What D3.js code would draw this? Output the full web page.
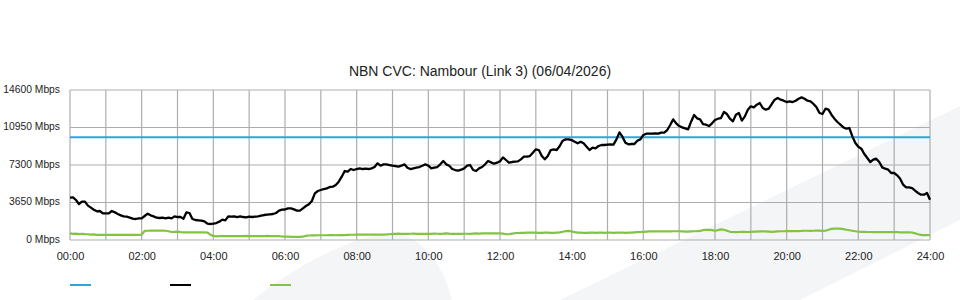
<!DOCTYPE html>
<html>
<head>
<meta charset="utf-8">
<script src="https://cdn.jsdelivr.net/npm/d3@7/dist/d3.min.js"></script>
<style>
  html, body { margin: 0; padding: 0; background: #fff; }
  svg { display: block; font-family: "Liberation Sans", Arial, sans-serif; }
</style>
</head>
<body>
<svg id="chart" width="960" height="300"></svg>
<script>
// ---- data ----
const title = "NBN CVC: Nambour (Link 3) (06/04/2026)";
const sampleStepMinutes = 5;
const yTicks = [0, 3650, 7300, 10950, 14600];
const xTickLabels = ["00:00","02:00","04:00","06:00","08:00","10:00","12:00","14:00","16:00","18:00","20:00","22:00","24:00"];
const capacityTimes = [0, 1440];
const capacityValues = [10000, 10000];
const trafficValues = [
  4120,4153,3893,3504,3731,3731,3342,3147,2952,2790,2822,2595,
  2595,2595,2822,2693,2530,2401,2303,2271,2173,2076,2044,2109,
  2109,2336,2563,2401,2303,2173,2141,2173,2109,2173,2109,2303,
  2238,2238,2076,2693,2628,2044,1946,1914,1882,1817,1590,1557,
  1590,1654,1784,1979,1914,2303,2271,2303,2238,2303,2238,2206,
  2271,2238,2271,2303,2368,2433,2465,2498,2530,2628,2855,2952,
  2970,3082,3082,2984,2855,2855,3082,3309,3471,3795,4542,4769,
  4866,4963,5028,5158,5190,5353,5677,6164,6715,6650,6910,6812,
  6910,6975,6910,6942,6910,6975,7104,7461,7234,7364,7364,7299,
  7234,7202,7137,7234,7364,7039,6910,6975,7039,7104,7234,7364,
  7234,6975,7039,7104,7364,7688,7364,7234,6910,6812,6748,6845,
  6975,7234,7299,6812,6715,6975,7104,7364,7688,7559,7429,7526,
  7670,8045,7786,7526,7591,7623,7656,7850,8110,8110,8175,8499,
  8824,8759,8175,7850,8175,8759,8824,8759,9148,9667,9797,9797,
  9732,9570,9408,9570,9408,9083,8759,8986,8921,9148,9245,9245,
  9278,9310,9278,9797,10478,10056,9472,9310,9343,9343,9667,9797,
  10219,10348,10348,10348,10381,10348,10446,10446,10705,11192,11743,11354,
  11094,10965,10867,10770,11516,12165,11841,11743,11289,11224,11094,11354,
  11680,11808,11873,12457,12262,11808,11549,12197,12360,11614,12035,12684,
  13008,12911,13171,13333,12846,12684,12781,13236,13657,13819,13657,13560,
  13430,13495,13430,13560,13755,13884,13755,13560,13495,13236,12911,12360,
  12262,12781,12684,12197,11808,11484,11224,10965,10835,10900,10089,9440,
  9083,8889,8370,7980,7591,7818,7915,7591,7072,6942,6845,6520,
  6520,6293,5969,5385,5126,5126,5061,4801,4574,4412,4412,4574,3925
];
const secondaryValues = [
  640,600,620,580,610,570,560,520,540,500,490,500,
  500,500,500,500,500,490,490,490,490,490,490,500,
  520,880,900,910,910,910,910,905,900,850,780,800,
  810,760,750,750,750,750,750,750,750,740,730,520,
  400,360,370,380,380,390,380,380,380,370,380,400,
  380,380,380,380,370,380,400,380,380,370,370,340,
  330,320,310,300,300,310,320,400,440,450,450,460,
  460,460,460,470,470,460,470,470,480,500,510,510,
  520,520,530,520,520,520,530,520,530,530,540,560,
  600,600,620,600,610,600,610,620,600,600,610,600,
  590,600,620,610,600,620,650,620,600,600,590,600,
  610,610,600,620,640,630,640,640,640,640,640,640,
  650,620,560,560,620,660,680,700,700,710,720,720,
  720,700,700,720,720,700,700,720,740,800,870,880,
  830,760,720,720,700,690,710,720,700,720,720,700,
  710,720,700,720,730,720,700,710,720,740,760,780,
  800,820,840,840,840,840,840,840,840,840,850,850,
  850,840,820,820,840,850,860,880,960,1000,990,960,
  900,960,1038,1000,900,800,780,770,780,790,790,780,
  800,810,820,840,850,840,820,800,820,840,850,850,
  860,870,870,860,870,880,900,900,880,900,920,910,
  880,900,1000,1080,1100,1120,1100,1060,1000,950,900,850,
  820,800,790,780,780,770,760,760,760,760,760,760,
  760,760,750,750,750,740,730,650,560,500,480,480,480
];
const seriesColors = { capacity: "#2aa7df", traffic: "#000000", secondary: "#82c341" };

// ---- layout ----
const svg = d3.select("#chart");
const W = 960, H = 300;
const plot = { left: 70, right: 930, top: 90, bottom: 240 };

// background watermark
const bg = svg.append("g");
bg.append("path")
  .attr("d", "M560,300 L960,106 L960,220 L800,300 Z")
  .attr("fill", "#f4f5f7");
bg.append("path")
  .attr("d", "M253,300 C280,278 320,252 365,238 C380,234 398,234 408,237 C425,245 442,262 452,300 Z")
  .attr("fill", "#f4f5f7");

const x = d3.scaleLinear().domain([0, 1440]).range([plot.left, plot.right]);
const y = d3.scaleLinear().domain([0, 14600]).range([plot.bottom, plot.top]);

const timeMinutes = trafficValues.map((_, i) => i * sampleStepMinutes);

// grid: vertical (every hour)
const hourTicks = d3.range(0, 1441, 60);
const grid = svg.append("g").attr("stroke", "#adadad").attr("stroke-width", 1.2).attr("fill", "none");
grid.selectAll("line.v").data(hourTicks).join("line")
  .attr("class", "v")
  .attr("x1", d => x(d)).attr("x2", d => x(d))
  .attr("y1", plot.top).attr("y2", plot.bottom);
grid.selectAll("line.h").data(yTicks).join("line")
  .attr("class", "h")
  .attr("x1", plot.left).attr("x2", plot.right)
  .attr("y1", d => y(d)).attr("y2", d => y(d));

// y axis labels
const yAxis = d3.axisLeft(y).tickValues(yTicks).tickSize(0).tickPadding(10)
  .tickFormat(d => d + " Mbps");
const yg = svg.append("g").attr("transform", `translate(${plot.left},0)`).call(yAxis);
yg.select(".domain").remove();
yg.selectAll("text").attr("font-size", 10.3).attr("fill", "#222")
  .attr("font-family", "'Liberation Sans', Arial, sans-serif").attr("dy", "0.55em").attr("y", -3.5);

// x axis labels
const xLabelTicks = d3.range(0, 1441, 120);
const xAxis = d3.axisBottom(x).tickValues(xLabelTicks).tickSize(0).tickPadding(12)
  .tickFormat((d, i) => xTickLabels[i]);
const xg = svg.append("g").attr("transform", `translate(0,${plot.bottom})`).call(xAxis);
xg.select(".domain").remove();
xg.selectAll("text").attr("font-size", 11).attr("fill", "#222")
  .attr("font-family", "'Liberation Sans', Arial, sans-serif");

// title
svg.append("text").attr("x", W / 2).attr("y", 75.5).attr("text-anchor", "middle")
  .attr("font-size", 14).attr("fill", "#222").text(title);

// lines
const line = d3.line().x(d => x(d[0])).y(d => y(d[1]));
svg.append("path")
  .datum(timeMinutes.map((t, i) => [t, secondaryValues[i]]))
  .attr("d", line).attr("fill", "none").attr("stroke", seriesColors.secondary)
  .attr("stroke-width", 2.2).attr("stroke-linejoin", "round");
svg.append("path")
  .datum(capacityTimes.map((t, i) => [t, capacityValues[i]]))
  .attr("d", line).attr("fill", "none").attr("stroke", seriesColors.capacity)
  .attr("stroke-width", 2);
svg.append("path")
  .datum(timeMinutes.map((t, i) => [t, trafficValues[i]]))
  .attr("d", line).attr("fill", "none").attr("stroke", seriesColors.traffic)
  .attr("stroke-width", 2.3).attr("stroke-linejoin", "round");

// legend (swatches only)
const legendItems = ["capacity", "traffic", "secondary"];
const lg = svg.append("g");
lg.selectAll("line").data(legendItems).join("line")
  .attr("x1", (d, i) => 70 + i * 100).attr("x2", (d, i) => 91 + i * 100)
  .attr("y1", 285).attr("y2", 285)
  .attr("stroke", d => seriesColors[d]).attr("stroke-width", 2);
</script>
</body>
</html>
